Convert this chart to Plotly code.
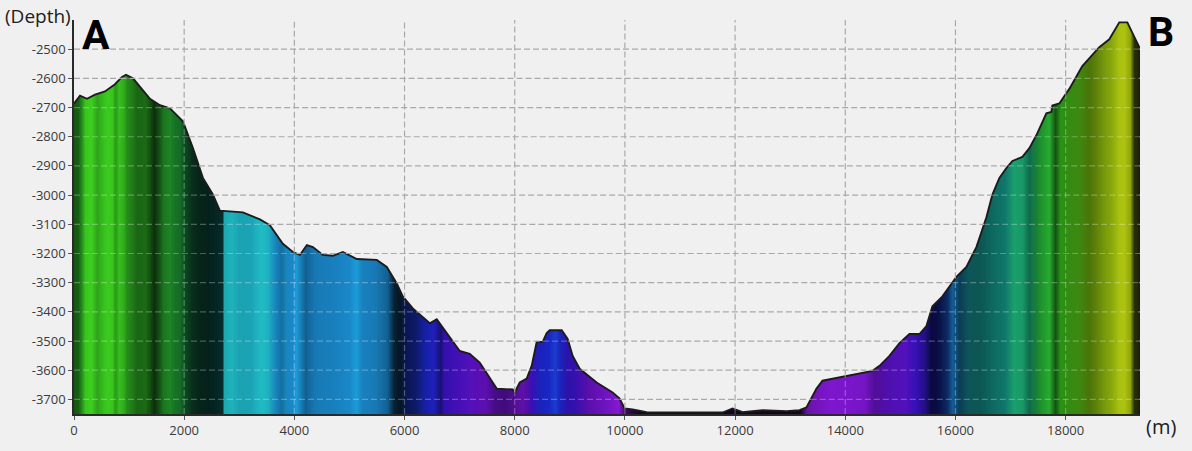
import numpy as np
import plotly.graph_objects as go

# ---------------- data ----------------
distance_m = [0, 109, 236, 381, 562, 744, 871, 943, 1070, 1197, 1379, 1560, 1741, 1977, 2159, 2340, 2521, 2648,
              3066, 3374, 3555, 3791, 3973, 4100, 4227, 4336, 4517, 4698, 4880, 5134, 5496, 5678, 5859, 5968,
              6150, 6458, 6585, 6766, 7002, 7183, 7365, 7673, 7964, 8000, 8091, 8217, 8308, 8399, 8508, 8580,
              8635, 8853, 8961, 9052, 9179, 9487, 9777, 9904, 9995, 10140, 10394, 11773, 11954, 12136, 12499,
              12934, 13170, 13297, 13478, 13587, 13768, 14077, 14494, 14621, 14802, 14984, 15165, 15346, 15473,
              15582, 15764, 16018, 16199, 16380, 16562, 16671, 16798, 16925, 17033, 17215, 17342, 17469, 17650,
              17741, 17759, 17886, 18067, 18303, 18611, 18793, 18974, 19120, 19210, 19301, 19337]
depth_m = [-2686, -2659, -2670, -2656, -2645, -2620, -2595, -2588, -2600, -2630, -2670, -2692, -2703, -2747,
           -2839, -2941, -2998, -3053, -3059, -3083, -3103, -3167, -3195, -3205, -3171, -3178, -3205, -3208,
           -3195, -3219, -3222, -3246, -3303, -3347, -3388, -3439, -3425, -3473, -3534, -3544, -3574, -3663,
           -3666, -3676, -3642, -3629, -3585, -3503, -3503, -3473, -3463, -3463, -3493, -3551, -3595, -3642,
           -3676, -3697, -3731, -3734, -3744, -3745, -3731, -3744, -3737, -3740, -3737, -3727, -3663, -3636,
           -3629, -3619, -3602, -3585, -3551, -3507, -3476, -3476, -3449, -3381, -3347, -3280, -3246, -3178,
           -3076, -2998, -2941, -2907, -2883, -2869, -2839, -2795, -2720, -2715, -2693, -2686, -2636, -2558,
           -2493, -2466, -2408, -2408, -2442, -2476, -2493]

# colour attribute of the surface along the section (hue = horizon depth, shade = illumination darkening)
stripe_x = [0, 73, 120, 200, 300, 417, 500, 600, 690, 750, 810, 890, 960, 1050, 1150, 1290, 1380, 1450, 1520,
            1620, 1740, 1830, 1930, 2020, 2140, 2300, 2500, 2680, 2730, 2870, 3000, 3190, 3400, 3520, 3650,
            3760, 3840, 3955, 4030, 4190, 4370, 4740, 5000, 5110, 5220, 5460, 5690, 5800, 5910, 6000, 6190,
            6370, 6510, 6640, 6710, 6910, 7180, 7460, 7640, 7820, 8000, 8130, 8310, 8450, 8600, 8740, 8820,
            8930, 9090, 9360, 9630, 9870, 10000, 10270, 13170, 13300, 13440, 13710, 14080, 14350, 14530,
            14800, 15070, 15260, 15440, 15560, 15710, 15840, 15945, 16070, 16220, 16440, 16710, 16890, 17070,
            17200, 17340, 17450, 17560, 17705, 17815, 17890, 18070, 18250, 18430, 18560, 18700, 18830, 18975,
            19065, 19160, 19250, 19337]
stripe_hue = [-2700, -2700, -2690, -2650, -2650, -2660, -2650, -2650, -2650, -2660, -2650, -2660, -2680, -2680,
              -2690, -2690, -2700, -2710, -2720, -2730, -2740, -2760, -2780, -2800, -2850, -2900, -2950, -3000,
              -3050, -3050, -3060, -3070, -3045, -3060, -3150, -3160, -3150, -3170, -3140, -3180, -3170, -3170,
              -3170, -3140, -3170, -3170, -3180, -3200, -3250, -3330, -3330, -3350, -3370, -3400, -3450, -3480,
              -3520, -3560, -3560, -3560, -3600, -3600, -3450, -3350, -3350, -3320, -3350, -3420, -3460, -3560,
              -3620, -3680, -3700, -3700, -3700, -3680, -3650, -3650, -3640, -3640, -3560, -3520, -3520, -3450,
              -3430, -3380, -3330, -3280, -3220, -3150, -3050, -2980, -2950, -2950, -2880, -2880, -2900, -2800,
              -2750, -2730, -2720, -2650, -2620, -2600, -2550, -2520, -2500, -2480, -2450, -2440, -2450, -2500,
              -2500]
stripe_shade = [0.55, 0.5, 0.3, 0.05, 0.0, 0.2, 0.1, 0.02, 0.05, 0.25, 0.08, 0.15, 0.3, 0.38, 0.48, 0.45, 0.6,
                0.75, 0.6, 0.35, 0.25, 0.35, 0.4, 0.6, 0.75, 0.8, 0.8, 0.75, 0.1, 0.05, 0.12, 0.1, 0.0, 0.05,
                0.12, 0.25, 0.12, 0.05, 0.0, 0.3, 0.15, 0.1, 0.05, 0.0, 0.1, 0.15, 0.3, 0.75, 0.8, 0.6, 0.5, 0.2,
                0.1, 0.45, 0.2, 0.15, 0.1, 0.15, 0.35, 0.4, 0.3, 0.2, 0.15, 0.1, 0.05, 0.0, 0.1, 0.2, 0.2, 0.15,
                0.1, 0.05, 0.6, 0.85, 0.85, 0.25, 0.15, 0.05, 0.05, 0.1, 0.25, 0.15, 0.1, 0.15, 0.4, 0.7, 0.65,
                0.5, 0.25, 0.6, 0.55, 0.5, 0.35, 0.3, 0.1, 0.15, 0.4, 0.3, 0.15, 0.05, 0.55, 0.3, 0.3, 0.3, 0.35,
                0.3, 0.2, 0.15, 0.05, 0.05, 0.2, 0.75, 0.8]

x_ticks = [0, 2000, 4000, 6000, 8000, 10000, 12000, 14000, 16000, 18000]
y_ticks = [-2500, -2600, -2700, -2800, -2900, -3000, -3100, -3200, -3300, -3400, -3500, -3600, -3700]

# ---------------- styling ----------------
BG = "#f0f0f0"
X_RANGE = [0, 19350]
Y_RANGE = [-3750, -2400]
HUE_MIN, HUE_MAX = -3750, -2400
hue_stops = [(-3750, "#9a22e6"), (-3650, "#8418d8"), (-3550, "#6a12cc"), (-3450, "#4014d8"),
             (-3350, "#1c28d0"), (-3250, "#1a6cc4"), (-3150, "#1c98d8"), (-3050, "#20bcc6"),
             (-2950, "#16a898"), (-2850, "#20b86c"), (-2750, "#24ae34"), (-2650, "#3cd020"),
             (-2550, "#74b40e"), (-2450, "#b4cc10"), (-2400, "#cad818")]
hue_scale = [[(v - HUE_MIN) / (HUE_MAX - HUE_MIN), c] for v, c in hue_stops]
shade_scale = [[0, "rgba(0,0,0,0)"], [1, "rgba(0,0,0,1)"]]

fig = go.Figure()

# colour body of the section
fig.add_trace(go.Heatmap(x=stripe_x, y=Y_RANGE, z=[stripe_hue, stripe_hue], colorscale=hue_scale,
                         zmin=HUE_MIN, zmax=HUE_MAX, zsmooth="best", showscale=False, hoverinfo="skip"))
fig.add_trace(go.Heatmap(x=stripe_x, y=Y_RANGE, z=[stripe_shade, stripe_shade], colorscale=shade_scale,
                         zmin=0, zmax=1, zsmooth="best", showscale=False, hoverinfo="skip"))

# mask everything above the horizon with the background
x_end = distance_m[-1]
mask_x = list(distance_m) + [x_end, X_RANGE[1] + 500, X_RANGE[1] + 500, X_RANGE[0] - 500, X_RANGE[0] - 500]
mask_y = list(depth_m) + [Y_RANGE[0] - 50, Y_RANGE[0] - 50, Y_RANGE[1] + 50, Y_RANGE[1] + 50, depth_m[0]]
fig.add_trace(go.Scatter(x=mask_x, y=mask_y, mode="lines", fill="toself", fillcolor=BG,
                         line=dict(width=0), hoverinfo="skip", showlegend=False))

# horizon outline
fig.add_trace(go.Scatter(x=list(distance_m) + [x_end], y=list(depth_m) + [Y_RANGE[0]], mode="lines",
                         line=dict(color="#1c1c1c", width=1.9), hoverinfo="skip", showlegend=False))

# ---------------- dashed grid (drawn above the fill) ----------------
xs = np.array(distance_m, float)
ds = np.array(depth_m, float)
OUT = dict(color="#a9a9a9", width=1.2, dash="6px,3px")
INS = dict(color="rgba(255,255,255,0.28)", width=1.2, dash="6px,3px")
shapes = []
for g in y_ticks:
    pts = [X_RANGE[0]]
    for i in range(len(xs) - 1):
        a, b = ds[i] - g, ds[i + 1] - g
        if a * b < 0:
            t = a / (a - b)
            pts.append(xs[i] + t * (xs[i + 1] - xs[i]))
    pts.append(xs[-1])
    for p, q in zip(pts[:-1], pts[1:]):
        inside = np.interp((p + q) / 2, xs, ds) > g
        shapes.append(dict(type="line", xref="x", yref="y", x0=p, x1=q, y0=g, y1=g, layer="above",
                           line=INS if inside else OUT))
    shapes.append(dict(type="line", xref="x", yref="y", x0=xs[-1], x1=X_RANGE[1], y0=g, y1=g,
                       layer="above", line=OUT))
for xv in x_ticks[1:]:
    d = float(np.interp(xv, xs, ds))
    shapes.append(dict(type="line", xref="x", yref="y", x0=xv, x1=xv, y0=Y_RANGE[0], y1=d,
                       layer="above", line=INS))
    shapes.append(dict(type="line", xref="x", yref="y", x0=xv, x1=xv, y0=d, y1=Y_RANGE[1],
                       layer="above", line=OUT))

TICKFONT = dict(family="Open Sans, Noto Sans, sans-serif", size=13, color="#3a3a3a")
fig.update_layout(
    width=1192, height=451,
    margin=dict(l=74, r=52, t=20, b=32),
    paper_bgcolor=BG, plot_bgcolor=BG,
    showlegend=False,
    shapes=shapes,
    xaxis=dict(range=X_RANGE, tickvals=x_ticks, ticktext=[str(v) for v in x_ticks], showgrid=False,
               zeroline=False, showline=True, linecolor="#2a2a2a", linewidth=1.5, ticks="outside",
               ticklen=4, tickcolor="#555", tickfont=TICKFONT),
    yaxis=dict(range=Y_RANGE, tickvals=y_ticks, ticktext=[str(v) for v in y_ticks], showgrid=False,
               zeroline=False, showline=True, linecolor="#2a2a2a", linewidth=1.5, ticks="outside",
               ticklen=4, tickcolor="#555", tickfont=TICKFONT),
    annotations=[
        dict(text="(Depth)", xref="paper", yref="paper", x=0, y=1, xanchor="right", yanchor="middle",
             xshift=-1, yshift=4, showarrow=False,
             font=dict(family="Open Sans, sans-serif", size=19, color="#202020")),
        dict(text="(m)", xref="paper", yref="paper", x=1, y=0, xanchor="left", yanchor="middle",
             xshift=4, yshift=-12, showarrow=False,
             font=dict(family="Open Sans, sans-serif", size=20, color="#202020")),
        dict(text="<b>A</b>", xref="paper", yref="paper", x=0, y=1, xanchor="left", yanchor="middle",
             xshift=6, yshift=-15, showarrow=False,
             font=dict(family="Roboto, sans-serif", size=41, color="#000000")),
        dict(text="<b>B</b>", xref="paper", yref="paper", x=1, y=1, xanchor="left", yanchor="middle",
             xshift=6, yshift=-12, showarrow=False,
             font=dict(family="Roboto, sans-serif", size=41, color="#000000")),
    ],
)

fig.write_html("out.html", config={"displayModeBar": False},
               post_script="document.body.style.margin='0';document.body.style.background='%s';" % BG)
